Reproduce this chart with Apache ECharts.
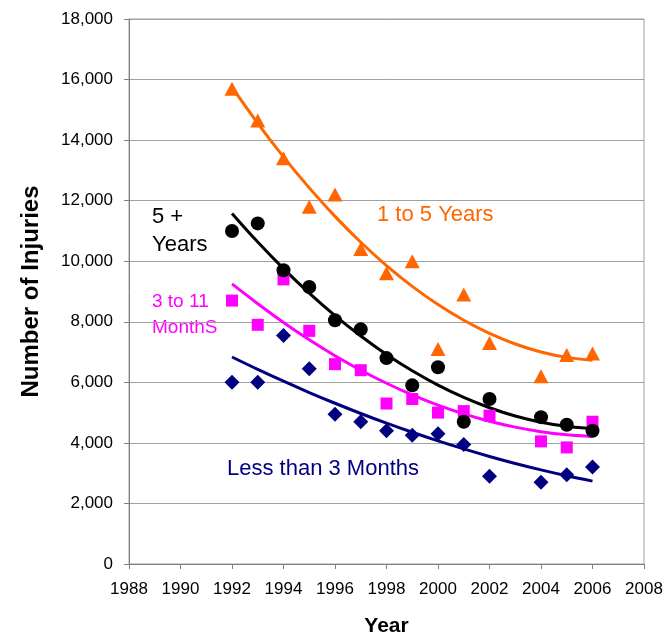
<!DOCTYPE html>
<html>
<head>
<meta charset="utf-8">
<script src="https://cdn.jsdelivr.net/npm/echarts@6/dist/echarts.min.js"></script>
<style>
  html, body { margin: 0; padding: 0; background: #ffffff; }
  #chart { width: 665px; height: 635px; }
</style>
</head>
<body>
<div id="chart"></div>
<script>
// Survey years (no counts recorded for 2003)
const years = [1992, 1993, 1994, 1995, 1996, 1997, 1998, 1999, 2000, 2001, 2002, 2003, 2004, 2005, 2006];

// Yearly injury counts by age group
const oneToFiveYears      = [15700, 14650, 13400, 11800, 12200, 10400, 9600, 10000, 7100, 8900, 7300, null, 6200, 6900, 6950];
const fivePlusYears       = [11000, 11250, 9700, 9150, 8050, 7750, 6800, 5900, 6500, 4700, 5450, null, 4850, 4600, 4400];
const threeToElevenMonths = [8700, 7900, 9400, 7700, 6600, 6400, 5300, 5450, 5000, 5050, 4900, null, 4050, 3850, 4700];
const underThreeMonths    = [6000, 6000, 7550, 6450, 4950, 4700, 4400, 4250, 4300, 3950, 2900, null, 2700, 2950, 3200];

// Trend curves for each age group
const trendOneToFive      = [15750, 14556, 13447, 12422, 11482, 10627, 9855, 9169, 8567, 8049, 7616, 7267, 7003, 6824, 6729];
const trendFivePlus       = [11577, 10633, 9756, 8946, 8205, 7529, 6921, 6380, 5906, 5501, 5161, 4889, 4684, 4546, 4470];
const trendThreeToEleven  = [9250, 8597, 7976, 7404, 6879, 6400, 5969, 5585, 5248, 4958, 4715, 4520, 4370, 4269, 4215];
const trendUnderThree     = [6836, 6427, 6037, 5663, 5309, 4971, 4651, 4350, 4066, 3801, 3552, 3321, 3109, 2914, 2737];

// Axis ticks
const yearTicks = [1988, 1990, 1992, 1994, 1996, 1998, 2000, 2002, 2004, 2006, 2008];
const injuryTicks = [0, 2000, 4000, 6000, 8000, 10000, 12000, 14000, 16000, 18000];

const FONT = '"Liberation Sans", Arial, Helvetica, sans-serif';

function pairs(values) {
  const out = [];
  values.forEach((v, i) => { if (v !== null) out.push([years[i], v]); });
  return out;
}

function points(name, values, color, symbol, size) {
  return {
    name, type: 'scatter', data: pairs(values),
    symbol, symbolSize: size,
    itemStyle: { color, opacity: 1 },
    z: 4, silent: true
  };
}

function trend(name, values, color) {
  return {
    name, type: 'line', data: pairs(values),
    smooth: 0.4, showSymbol: false, symbol: 'none',
    lineStyle: { color, width: 3 },
    z: 3, silent: true
  };
}

function withCommas(v) {
  return String(v).replace(/\B(?=(\d{3})+(?!\d))/g, ',');
}

const chart = echarts.init(document.getElementById('chart'), null, { renderer: 'canvas' });

chart.setOption({
  animation: false,
  backgroundColor: '#ffffff',
  grid: {
    left: 129, right: 21, top: 19, bottom: 71,
    containLabel: false, outerBoundsMode: 'none',
    show: true, borderColor: '#a0a0a0', borderWidth: 1, backgroundColor: 'transparent'
  },
  xAxis: {
    type: 'value',
    min: yearTicks[0], max: yearTicks[yearTicks.length - 1], interval: 2,
    name: 'Year', nameLocation: 'middle', nameGap: 52,
    nameTextStyle: { fontFamily: FONT, fontSize: 21, fontWeight: 'bold', color: '#000' },
    axisLine: { show: true, onZero: false, lineStyle: { color: '#808080', width: 1 } },
    axisTick: { show: true, inside: false, length: 5, lineStyle: { color: '#808080' } },
    axisLabel: { fontFamily: FONT, fontSize: 17, color: '#000', margin: 17, formatter: v => String(v) },
    splitLine: { show: false }
  },
  yAxis: {
    type: 'value',
    min: injuryTicks[0], max: injuryTicks[injuryTicks.length - 1], interval: 2000,
    name: 'Number of Injuries', nameLocation: 'middle', nameGap: 86, nameRotate: 90,
    nameTextStyle: { fontFamily: FONT, fontSize: 24, fontWeight: 'bold', color: '#000' },
    axisLine: { show: true, lineStyle: { color: '#808080', width: 1 } },
    axisTick: { show: true, inside: false, length: 5, lineStyle: { color: '#808080' } },
    axisLabel: { fontFamily: FONT, fontSize: 17, color: '#000', margin: 16, formatter: withCommas },
    splitLine: { show: true, lineStyle: { color: '#a0a0a0', width: 1 } }
  },
  series: [
    trend('Less than 3 Months trend', trendUnderThree, '#000080'),
    trend('3 to 11 Months trend', trendThreeToEleven, '#ff00ff'),
    trend('5 + Years trend', trendFivePlus, '#000000'),
    trend('1 to 5 Years trend', trendOneToFive, '#ff6600'),
    points('Less than 3 Months', underThreeMonths, '#000080', 'diamond', 15),
    points('3 to 11 Months', threeToElevenMonths, '#ff00ff', 'rect', 12),
    points('5 + Years', fivePlusYears, '#000000', 'circle', 14),
    points('1 to 5 Years', oneToFiveYears, '#ff6600', 'triangle', [15, 14])
  ],
  graphic: [
    { type: 'text', left: 377, top: 204, style: { text: '1 to 5 Years', fill: '#ff6600', font: '22px ' + FONT } },
    { type: 'text', left: 152, top: 203, style: { text: '5 +\nYears', fill: '#000000', font: '22px ' + FONT, lineHeight: 28 } },
    { type: 'text', left: 152, top: 289, style: { text: '3 to 11\nMonthS', fill: '#ff00ff', font: '19px ' + FONT, lineHeight: 26 } },
    { type: 'text', left: 227, top: 458, style: { text: 'Less than 3 Months', fill: '#000080', font: '22px ' + FONT } }
  ]
});
</script>
</body>
</html>
